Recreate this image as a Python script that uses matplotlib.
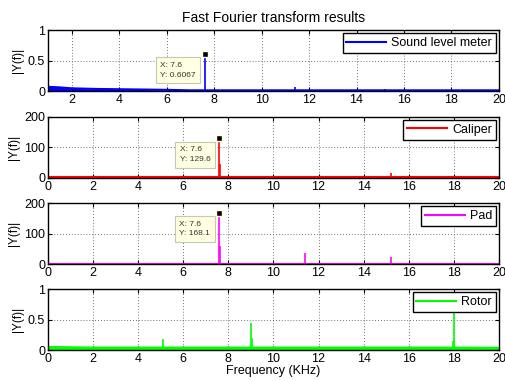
import matplotlib.pyplot as plt

plt.rcParams['font.family'] = ['Liberation Sans', 'DejaVu Sans']
plt.rcParams['font.size'] = 9

# frequency axis limits (KHz)
xlims = [(1, 20), (0, 20), (0, 20), (0, 20)]
ylims = [(0, 1), (0, 200), (0, 200), (0, 1)]
yticks = [[0, 0.5, 1], [0, 100, 200], [0, 100, 200], [0, 0.5, 1]]
names = ['Sound level meter', 'Caliper', 'Pad', 'Rotor']
colors = ['#0000ff', '#ff0000', '#ff00ff', '#00ff00']

# noise floor read at a few frequencies
floor_f = [
    [1, 1.5, 2, 3, 4, 5, 6, 7, 10, 15, 20],
    [0, 5, 10, 15, 20],
    [0, 5, 10, 15, 20],
    [0.05, 1, 2, 4, 6, 8, 10, 12, 14, 16, 18, 20],
]
floor_y = [
    [0.07, 0.06, 0.045, 0.035, 0.03, 0.025, 0.02, 0.012, 0.012, 0.012, 0.012],
    [1.5, 1.5, 1.5, 1.5, 1.5],
    [1.5, 1.5, 1.5, 1.5, 1.5],
    [0.035, 0.03, 0.025, 0.025, 0.025, 0.025, 0.025, 0.025, 0.025, 0.025, 0.025, 0.02],
]
floor_lw = [1.5, 1.5, 1.5, 3.0]

# spectral peaks: frequency (KHz) and |Y(f)|
peak_f = [
    [7.6, 11.4, 15.2],
    [7.6, 7.65, 11.4, 15.2],
    [7.6, 7.65, 11.4, 15.2],
    [0.0, 5.1, 9.0, 9.05, 17.98, 18.0],
]
peak_a = [
    [0.6067, 0.06, 0.03],
    [129.6, 45, 7, 15],
    [168.1, 60, 35, 22],
    [0.7, 0.19, 0.45, 0.2, 0.15, 0.7],
]

# data cursor on the main peak (panel, x, y)
tips = [(0, 7.6, 0.6067), (1, 7.6, 129.6), (2, 7.6, 168.1)]

fig = plt.figure(figsize=(5.05, 3.81), dpi=100)
bottoms = [0.761, 0.533, 0.307, 0.081]
axes = []
for i in range(4):
    ax = fig.add_axes([0.095, bottoms[i], 0.893, 0.160])
    c = colors[i]
    if i == 0:
        ax.fill_between(floor_f[i], 0, floor_y[i], color=c, lw=0)
    ax.plot(floor_f[i], floor_y[i], color=c, lw=floor_lw[i], label=names[i])
    ax.vlines(peak_f[i], 0, peak_a[i], color=c, lw=1.2)
    ax.set_xlim(xlims[i])
    ax.set_ylim(ylims[i])
    ax.set_yticks(yticks[i])
    ax.set_yticklabels([('%g' % v) for v in yticks[i]])
    if i == 0:
        ax.set_xticks([2, 4, 6, 8, 10, 12, 14, 16, 18, 20])
    else:
        ax.set_xticks(range(0, 21, 2))
    ax.grid(True, color='#444444', linestyle=(0, (1, 2.5)), lw=0.6)
    ax.tick_params(direction='in', top=True, right=True, length=3, labelsize=9, pad=2)
    for s in ax.spines.values():
        s.set_linewidth(1.0)
    ax.set_ylabel('|Y(f)|', fontsize=8.5, labelpad=3)
    leg = ax.legend(loc='upper right', fancybox=False, framealpha=1, edgecolor='k',
                    fontsize=9, handlelength=3.2, borderpad=0.3, handletextpad=0.4,
                    borderaxespad=0.25)
    leg.get_frame().set_linewidth(1.0)
    for h in leg.get_lines():
        h.set_linewidth(1.5)
    axes.append(ax)

for idx, tx, ty in tips:
    ax = axes[idx]
    ax.plot(tx, ty, 's', color='k', ms=5, mec='#ffffe1', mew=1, zorder=5)
    ax.annotate('X: %g\nY: %g' % (tx, ty), xy=(tx, ty), xytext=(-9, -8),
                textcoords='offset pixels', ha='right', va='top', fontsize=6,
                multialignment='left', color='#333333', linespacing=1.5,
                bbox=dict(boxstyle='square,pad=0.55', fc='#ffffe1', ec='#c8c8b0', lw=0.8))

axes[0].set_title('Fast Fourier transform results', fontsize=10, pad=6)
axes[3].set_xlabel('Frequency (KHz)', fontsize=9, labelpad=0)

fig.savefig('out.png', dpi=100)
